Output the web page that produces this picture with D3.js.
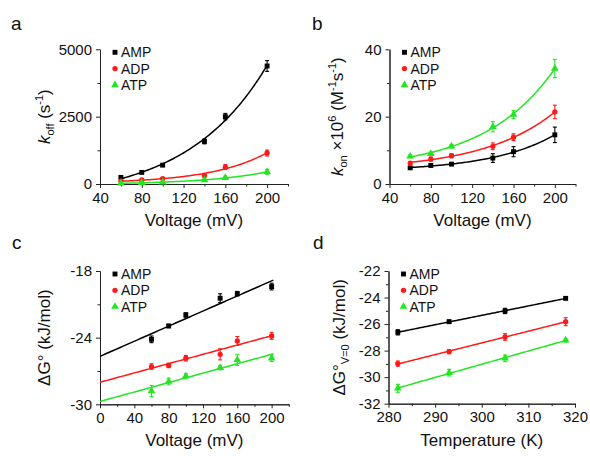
<!DOCTYPE html>
<html>
<head>
<meta charset="utf-8">
<script src="https://cdn.jsdelivr.net/npm/d3@7"></script>
<style>
  body { margin: 0; background: #fff; }
  svg { font-family: "Liberation Sans", Arial, sans-serif; }
</style>
</head>
<body>
<div id="vis"></div>
<script>
// values
var voltage = [60, 80, 100, 140, 160, 200];
var temperature = [282, 293, 305, 318];
var ligands = ["AMP", "ADP", "ATP"];

// a: k_off (s^-1)
var koffAMP = [245, 430, 700, 1580, 2500, 4380];
var koffAMPErr = [40, 40, 50, 90, 120, 200];
var koffADP = [110, 150, 200, 320, 630, 1150];
var koffADPErr = [30, 30, 40, 70, 90, 110];
var koffATP = [30, 45, 65, 150, 230, 450];
var koffATPErr = [20, 20, 20, 40, 60, 90];

// b: k_on x10^6 (M^-1 s^-1)
var konAMP = [4.8, 5.5, 5.9, 7.7, 9.6, 14.6];
var konAMPErr = [0.4, 0.4, 0.4, 1.3, 1.5, 2.3];
var konADP = [6.2, 7.4, 8.4, 11.2, 13.9, 21.4];
var konADPErr = [0.4, 0.6, 0.6, 1.0, 1.0, 2.0];
var konATP = [8.2, 9.0, 11.2, 17.0, 20.6, 34.3];
var konATPErr = [0.4, 0.5, 0.5, 1.5, 1.2, 2.7];

// c: dG (kJ/mol) vs voltage
var dgAMP = [-24.15, -22.95, -21.96, -20.45, -20.04, -19.4];
var dgAMPErr = [0.3, 0.15, 0.2, 0.4, 0.2, 0.3];
var dgADP = [-26.6, -26.5, -25.85, -25.5, -24.3, -23.85];
var dgADPErr = [0.25, 0.2, 0.25, 0.5, 0.4, 0.3];
var dgATP = [-28.8, -27.95, -27.45, -26.7, -26.0, -25.85];
var dgATPErr = [0.5, 0.3, 0.2, 0.2, 0.5, 0.3];

// d: dG at V=0 (kJ/mol) vs temperature
var dg0AMP = [-26.62, -25.82, -25.01, -24.06];
var dg0AMPErr = [0.2, 0.12, 0.2, 0.1];
var dg0ADP = [-28.98, -28.08, -26.97, -25.82];
var dg0ADPErr = [0.2, 0.15, 0.25, 0.3];
var dg0ATP = [-30.84, -29.66, -28.58, -27.22];
var dg0ATPErr = [0.3, 0.25, 0.25, 0.12];

var colors = ["#000000", "#ff1a1a", "#22e622"];
var symbols = [d3.symbolSquare, d3.symbolCircle, d3.symbolTriangle];
var symbolSizes = [24, 22, 26];

var svg = d3.select("#vis").append("svg")
    .attr("width", 590)
    .attr("height", 456);

// y = c + a*exp(b*x), least squares over a grid of b
function expFit(xs, ys) {
  var best = null;
  for (var b = 0.002; b <= 0.05; b += 0.0002) {
    var z = xs.map(function(v) { return Math.exp(b * v); });
    var mz = d3.mean(z), my = d3.mean(ys);
    var sxy = d3.sum(z, function(v, i) { return (v - mz) * (ys[i] - my); });
    var sxx = d3.sum(z, function(v) { return (v - mz) * (v - mz); });
    var a = sxy / sxx, c = my - a * mz;
    var sse = d3.sum(z, function(v, i) { return Math.pow(c + a * v - ys[i], 2); });
    if (!best || sse < best.sse) best = {a: a, b: b, c: c, sse: sse};
  }
  return function(v) { return best.c + best.a * Math.exp(best.b * v); };
}

function linFit(xs, ys) {
  var mx = d3.mean(xs), my = d3.mean(ys);
  var sxy = d3.sum(xs, function(v, i) { return (v - mx) * (ys[i] - my); });
  var sxx = d3.sum(xs, function(v) { return (v - mx) * (v - mx); });
  var s = sxy / sxx, c = my - s * mx;
  return function(v) { return c + s * v; };
}

// plain numbers with an ascii hyphen, like the figure
var plain = function(d) { return String(d); };

function drawPanel(p) {
  var g = svg.append("g");
  var x = d3.scaleLinear().domain(p.xDomain).range([p.left, p.right]);
  var y = d3.scaleLinear().domain(p.yDomain).range([p.bottom, p.top]);

  // minor ticks
  g.append("g")
      .attr("transform", "translate(0," + p.bottom + ")")
      .call(d3.axisBottom(x).tickValues(p.xMinor).tickSize(2.5).tickSizeOuter(0).tickFormat(""));
  g.append("g")
      .attr("transform", "translate(" + p.left + ",0)")
      .call(d3.axisLeft(y).tickValues(p.yMinor).tickSize(2.5).tickSizeOuter(0).tickFormat(""));

  // major ticks
  g.append("g")
      .attr("transform", "translate(0," + p.bottom + ")")
      .call(d3.axisBottom(x).tickValues(p.xTicks).tickSize(4).tickPadding(4).tickSizeOuter(0).tickFormat(plain));
  g.append("g")
      .attr("transform", "translate(" + p.left + ",0)")
      .call(d3.axisLeft(y).tickValues(p.yTicks).tickSize(4).tickPadding(4).tickSizeOuter(0).tickFormat(plain));

  g.selectAll(".domain, .tick line").attr("stroke", "#222").attr("stroke-width", 1);
  g.selectAll(".tick text").attr("font-size", 15).attr("fill", "#111")
      .style("font-family", "'Liberation Sans', Arial, sans-serif");

  // fits, error bars, points
  p.series.forEach(function(ys, k) {
    var f = p.fit(p.xs, ys);
    var xsFit = d3.range(0, 101).map(function(i) { return p.fitFrom + (p.fitTo - p.fitFrom) * i / 100; });
    g.append("path")
        .attr("d", d3.line().x(function(v) { return x(v); }).y(function(v) { return y(f(v)); })(xsFit))
        .attr("fill", "none")
        .attr("stroke", colors[k])
        .attr("stroke-width", 1.5);

    var errs = p.errors[k];
    var eb = g.append("g").attr("stroke", colors[k]).attr("stroke-width", 1.1);
    p.xs.forEach(function(xv, i) {
      var cx = x(xv), y1 = y(ys[i] + errs[i]), y2 = y(ys[i] - errs[i]);
      eb.append("line").attr("x1", cx).attr("x2", cx).attr("y1", y1).attr("y2", y2);
      eb.append("line").attr("x1", cx - 2).attr("x2", cx + 2).attr("y1", y1).attr("y2", y1);
      eb.append("line").attr("x1", cx - 2).attr("x2", cx + 2).attr("y1", y2).attr("y2", y2);
    });

    g.selectAll(null)
        .data(ys)
        .enter()
        .append("path")
        .attr("d", d3.symbol().type(symbols[k]).size(symbolSizes[k]))
        .attr("transform", function(d, i) { return "translate(" + x(p.xs[i]) + "," + y(d) + ")"; })
        .attr("fill", colors[k]);
  });

  // legend
  ligands.forEach(function(name, k) {
    var ly = p.top + 3 + k * 16.3;
    g.append("path")
        .attr("d", d3.symbol().type(symbols[k]).size(symbolSizes[k]))
        .attr("transform", "translate(" + (p.left + 15) + "," + ly + ")")
        .attr("fill", colors[k]);
    g.append("text")
        .attr("x", p.left + 21)
        .attr("y", ly)
        .attr("dy", "0.36em")
        .attr("font-size", 14)
        .attr("fill", "#111")
        .text(name);
  });

  // x title
  g.append("text")
      .attr("x", (p.left + p.right) / 2)
      .attr("y", p.bottom + 42)
      .attr("text-anchor", "middle")
      .attr("font-size", 17)
      .attr("fill", "#111")
      .text(p.xTitle);

  // y title (rotated, with sub/superscripts)
  var yt = g.append("text")
      .attr("transform", "translate(" + p.yTitleX + "," + (p.top + p.bottom) / 2 + ") rotate(-90)")
      .attr("text-anchor", "middle")
      .attr("font-size", 17)
      .attr("fill", "#111");
  p.yTitle.forEach(function(part) {
    var t = yt.append("tspan").text(part.t);
    if (part.i) t.attr("font-style", "italic");
    if (part.sub) t.attr("font-size", 11).attr("dy", 4);
    if (part.sup) t.attr("font-size", 11).attr("dy", -7);
    if (part.back) t.attr("dy", part.back);
  });

  // panel letter
  svg.append("text")
      .attr("x", p.labelX)
      .attr("y", p.labelY)
      .attr("font-size", 19)
      .attr("fill", "#111")
      .text(p.label);
}

var voltTicks = [40, 80, 120, 160, 200];
var voltMinor = d3.range(60, 221, 40);

drawPanel({
  label: "a", labelX: 11, labelY: 30,
  left: 100, right: 288, top: 49.3, bottom: 184,
  xDomain: [40, 220], yDomain: [0, 5000],
  xTicks: voltTicks, xMinor: voltMinor,
  yTicks: [0, 2500, 5000], yMinor: [1250, 3750],
  xs: voltage, series: [koffAMP, koffADP, koffATP],
  errors: [koffAMPErr, koffADPErr, koffATPErr],
  fit: expFit, fitFrom: 60, fitTo: 200,
  xTitle: "Voltage (mV)", yTitleX: 50,
  yTitle: [{t: "k", i: true}, {t: "off", sub: true}, {t: " (s", back: -4}, {t: "-1", sup: true}, {t: ")", back: 7}]
});

drawPanel({
  label: "b", labelX: 312, labelY: 30,
  left: 389.5, right: 575.5, top: 49.3, bottom: 184,
  xDomain: [40, 220], yDomain: [0, 40],
  xTicks: voltTicks, xMinor: voltMinor,
  yTicks: [0, 20, 40], yMinor: [10, 30],
  xs: voltage, series: [konAMP, konADP, konATP],
  errors: [konAMPErr, konADPErr, konATPErr],
  fit: expFit, fitFrom: 60, fitTo: 200,
  xTitle: "Voltage (mV)", yTitleX: 343,
  yTitle: [{t: "k", i: true}, {t: "on", sub: true}, {t: " \u00d710", back: -4}, {t: "6", sup: true},
           {t: " (M", back: 7}, {t: "-1", sup: true}, {t: "s", back: 7}, {t: "-1", sup: true}, {t: ")", back: 7}]
});

drawPanel({
  label: "c", labelX: 12, labelY: 249,
  left: 100, right: 288.8, top: 271, bottom: 404.3,
  xDomain: [0, 220], yDomain: [-30, -18],
  xTicks: [0, 40, 80, 120, 160, 200], xMinor: d3.range(20, 221, 40),
  yTicks: [-30, -24, -18], yMinor: [-27, -21],
  xs: voltage, series: [dgAMP, dgADP, dgATP],
  errors: [dgAMPErr, dgADPErr, dgATPErr],
  fit: linFit, fitFrom: 0, fitTo: 202,
  xTitle: "Voltage (mV)", yTitleX: 50,
  yTitle: [{t: "\u0394G\u00b0 (kJ/mol)"}]
});

drawPanel({
  label: "d", labelX: 313, labelY: 249,
  left: 388.5, right: 575, top: 271, bottom: 403.7,
  xDomain: [280, 320], yDomain: [-32, -22],
  xTicks: [280, 290, 300, 310, 320], xMinor: [285, 295, 305, 315],
  yTicks: [-32, -30, -28, -26, -24, -22], yMinor: [-31, -29, -27, -25, -23],
  xs: temperature, series: [dg0AMP, dg0ADP, dg0ATP],
  errors: [dg0AMPErr, dg0ADPErr, dg0ATPErr],
  fit: linFit, fitFrom: 282, fitTo: 318,
  xTitle: "Temperature (K)", yTitleX: 345,
  yTitle: [{t: "\u0394G\u00b0"}, {t: "V=0", sub: true}, {t: " (kJ/mol)", back: -4}]
});
</script>
</body>
</html>
